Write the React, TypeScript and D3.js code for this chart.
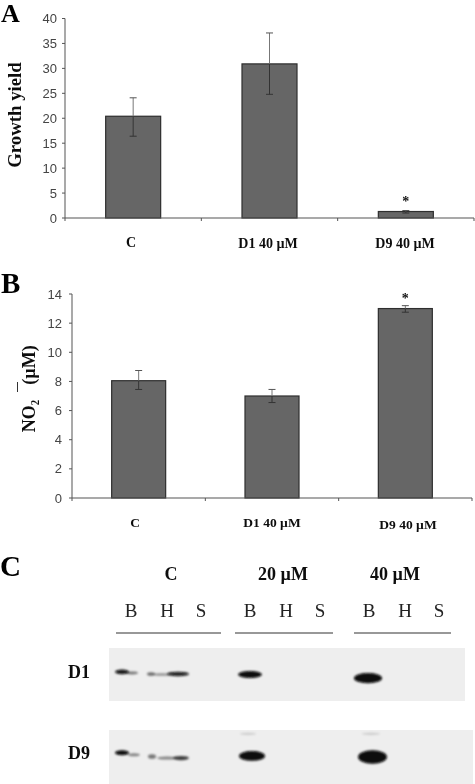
import React from "react";
import * as d3 from "d3";

const categories = ["C", "D1 40 µM", "D9 40 µM"];
const growthYield = [20.4, 30.9, 1.3];
const growthLow = [16.4, 24.8, 1.0];
const growthHigh = [24.1, 37.1, 1.5];
const growthTicks = [0, 5, 10, 15, 20, 25, 30, 35, 40];
const nitrite = [8.05, 7.0, 13.0];
const nitriteLow = [7.45, 6.55, 12.75];
const nitriteHigh = [8.75, 7.45, 13.2];
const nitriteTicks = [0, 2, 4, 6, 8, 10, 12, 14];

const doses = ["C", "20 µM", "40 µM"];
const lanes = ["B", "H", "S"];
// Bands read from the blot: centre along the strip, centre height in the strip (0-1), half length, half thickness, opacity
const d1Bands = [
  [122, 0.45, 6, 2, 0.95], [132, 0.47, 5, 1.2, 0.5], [151, 0.49, 3, 1.5, 0.55], [162, 0.5, 8, 1, 0.4], [178, 0.49, 10, 2, 0.9],
  [250, 0.5, 11, 3.2, 1], [368, 0.57, 13, 4.8, 1],
];
const d9Bands = [
  [122, 0.42, 6, 2.2, 1], [134, 0.46, 5, 1.2, 0.45], [152, 0.49, 3, 2, 0.5], [167, 0.52, 9, 1.2, 0.45], [181, 0.52, 7, 1.8, 0.75],
  [252, 0.48, 12, 4.6, 1], [372.5, 0.5, 13.5, 6.5, 1], [248, 0.07, 7, 0.8, 0.15], [371, 0.07, 8, 0.8, 0.15],
];

const SERIF = "'Liberation Serif', serif";
const SANS = "'Liberation Sans', sans-serif";

type PanelProps = {
  values: number[]; low: number[]; high: number[]; ticks: number[]; max: number;
  left: number; right: number; top: number; bottom: number; barWidth: number;
  labelSize: number; labelX: number[]; labelY: number[]; tickGap: number; starY: number;
};

function BarPanel(p: PanelProps) {
  const y = d3.scaleLinear().domain([0, p.max]).range([p.bottom, p.top]);
  const x = d3.scaleBand().domain(categories).range([p.left, p.right]);
  const cx = (c: string) => (x(c) as number) + x.bandwidth() / 2;
  return (
    <g>
      {categories.map((c, i) => (
        <g key={c}>
          <rect x={cx(c) - p.barWidth / 2} y={y(p.values[i])} width={p.barWidth} height={p.bottom - y(p.values[i])}
            fill="#666666" stroke="#2e2e2e" strokeWidth={1.2} />
          <line x1={cx(c)} x2={cx(c)} y1={y(p.high[i])} y2={y(p.values[i])} stroke="#777777" />
          <line x1={cx(c)} x2={cx(c)} y1={y(p.values[i])} y2={y(p.low[i])} stroke="#333333" />
          <line x1={cx(c) - 3.5} x2={cx(c) + 3.5} y1={y(p.high[i])} y2={y(p.high[i])} stroke="#555555" />
          <line x1={cx(c) - 3.5} x2={cx(c) + 3.5} y1={y(p.low[i])} y2={y(p.low[i])} stroke="#333333" />
          <text x={p.labelX[i]} y={p.labelY[i]} textAnchor="middle" fontFamily={SERIF} fontWeight="bold" fontSize={p.labelSize} fill="#111">{c}</text>
        </g>
      ))}
      <line x1={p.left} x2={p.left} y1={p.top} y2={p.bottom} stroke="#555" />
      <line x1={p.left} x2={p.right} y1={p.bottom} y2={p.bottom} stroke="#555" />
      {p.ticks.map((t) => (
        <g key={t}>
          <line x1={p.left - 3} x2={p.left} y1={y(t)} y2={y(t)} stroke="#555" />
          <text x={p.left - p.tickGap} y={y(t) + 4.5} textAnchor="end" fontFamily={SANS} fontSize={13} fill="#444">{t}</text>
        </g>
      ))}
      {d3.range(4).map((i) => {
        const tx = p.left + (i * (p.right - p.left)) / 3;
        return <line key={i} x1={tx} x2={tx} y1={p.bottom} y2={p.bottom + 3} stroke="#555" />;
      })}
      <text x={cx(categories[2])} y={p.starY} textAnchor="middle" fontFamily={SERIF} fontWeight="bold" fontSize={14} fill="#111">*</text>
    </g>
  );
}

function Blot({ bands, x0, x1, y0, y1, id }: { bands: number[][]; x0: number; x1: number; y0: number; y1: number; id: string }) {
  const yy = d3.scaleLinear().domain([0, 1]).range([y0, y1]);
  return (
    <g>
      <clipPath id={id}><rect x={x0} y={y0} width={x1 - x0} height={y1 - y0} /></clipPath>
      <rect x={x0} y={y0} width={x1 - x0} height={y1 - y0} fill="#eeeeee" />
      <g clipPath={`url(#${id})`}>
        <g filter="url(#band)">
          {bands.map((b, i) => (
            <ellipse key={i} cx={b[0]} cy={yy(b[1])} rx={b[2] + 1} ry={b[3] + 0.3} fill="#080808" opacity={b[4]} />
          ))}
        </g>
      </g>
    </g>
  );
}

export default function App() {
  const laneX = [131, 167, 201, 250, 286, 320, 369, 405, 439];
  const groupRules = [[116, 221], [235, 333], [354, 451]];
  const doseX = [171, 283, 395];
  return (
    <svg width={475} height={784} viewBox="0 0 475 784" style={{ position: "absolute", left: 0, top: 0, background: "#fff" }}>
      <defs>
        <filter id="band" x="-30%" y="-80%" width="160%" height="260%"><feGaussianBlur stdDeviation="1.1" /></filter>
        <filter id="soft" x="-2%" y="-2%" width="104%" height="104%"><feGaussianBlur stdDeviation="0.35" /></filter>
      </defs>
      <g filter="url(#soft)">
        <text x={1} y={22} fontFamily={SERIF} fontWeight="bold" fontSize={26} fill="#000">A</text>
        <text x={1} y={293} fontFamily={SERIF} fontWeight="bold" fontSize={29} fill="#000">B</text>
        <text x={0} y={576} fontFamily={SERIF} fontWeight="bold" fontSize={29} fill="#000">C</text>

        <BarPanel values={growthYield} low={growthLow} high={growthHigh} ticks={growthTicks} max={40}
          left={65} right={474} top={18.5} bottom={218} barWidth={55} labelSize={14}
          labelX={[131, 268, 405]} labelY={[247, 248, 248]} tickGap={8} starY={206} />
        <BarPanel values={nitrite} low={nitriteLow} high={nitriteHigh} ticks={nitriteTicks} max={14}
          left={72} right={472} top={294} bottom={498} barWidth={54} labelSize={13.5}
          labelX={[135, 272, 408]} labelY={[527, 527, 529]} tickGap={10} starY={303} />

        <text transform="translate(21,115) rotate(-90)" textAnchor="middle" fontFamily={SERIF} fontWeight="bold" fontSize={18.8} fill="#111">Growth yield</text>
        <text transform="translate(35,416) rotate(-90)" textAnchor="middle" fontFamily={SERIF} fontWeight="bold" fontSize={18} fill="#111">NO₂</text>
        <text transform="translate(35,365) rotate(-90)" textAnchor="middle" fontFamily={SERIF} fontWeight="bold" fontSize={18} fill="#111">(µM)</text>
        <line x1={17.5} x2={17.5} y1={382} y2={392} stroke="#333" />

        {doses.map((d, i) => (
          <text key={d} x={doseX[i]} y={580} textAnchor="middle" fontFamily={SERIF} fontWeight="bold" fontSize={18} fill="#111">{d}</text>
        ))}
        {laneX.map((lx, i) => (
          <text key={i} x={lx} y={617} textAnchor="middle" fontFamily={SERIF} fontSize={19} fill="#222">{lanes[i % 3]}</text>
        ))}
        {groupRules.map((r, i) => (
          <line key={i} x1={r[0]} x2={r[1]} y1={633} y2={633} stroke="#333" strokeWidth={1.2} />
        ))}
        <text x={68} y={678} fontFamily={SERIF} fontWeight="bold" fontSize={18} fill="#111">D1</text>
        <text x={68} y={759} fontFamily={SERIF} fontWeight="bold" fontSize={18} fill="#111">D9</text>
      </g>
      <Blot bands={d1Bands} x0={109} x1={465} y0={648} y1={701} id="clipD1" />
      <Blot bands={d9Bands} x0={109} x1={473} y0={730} y1={784} id="clipD9" />
    </svg>
  );
}
